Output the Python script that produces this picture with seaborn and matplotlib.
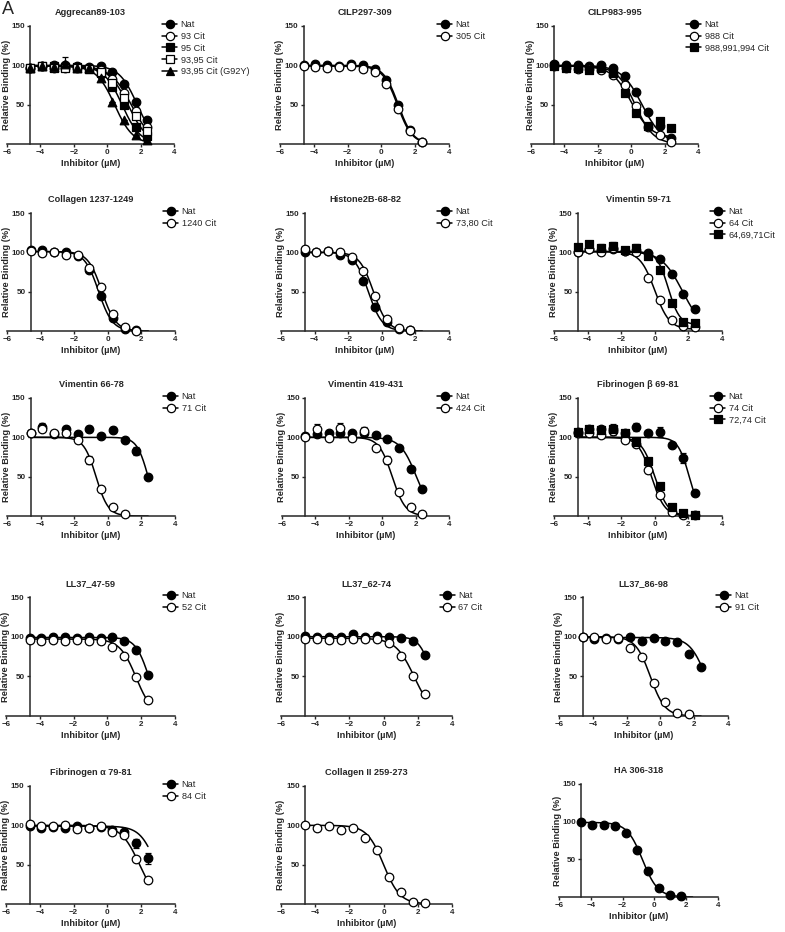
import numpy as np
import matplotlib
matplotlib.use("Agg")
import matplotlib.pyplot as plt
from matplotlib.lines import Line2D
import seaborn as sns

sns.set_style("ticks")
plt.rcParams["font.family"] = ["Liberation Sans", "DejaVu Sans"]
plt.rcParams["font.weight"] = "bold"
plt.rcParams["axes.labelweight"] = "bold"

nan = np.nan
# log10 inhibitor concentration (5-fold dilution series)
log_conc = [-4.6, -3.9, -3.2, -2.5, -1.8, -1.1, -0.4, 0.3, 1.0, 1.7, 2.4]

# ---- relative binding (%) ----
agg_nat = [97, 99, 100, 100, 99, 98, 99, 91, 76, 54, 31]
agg_93 = [97, 99, 97, 97, 97, 96, 94, 83, 65, 42, 22]
agg_95 = [97, 99, 99, 98, 98, 95, 90, 73, 50, 22, 10]
agg_9395 = [97, 99, 97, 97, 97, 95, 92, 78, 58, 36, 17]
agg_g92y = [97, 99, 98, 102, 97, 96, 84, 53, 30, 12, 5]
agg_g92y_err = [0, 0, 0, 8, 0, 0, 0, 0, 0, 0, 0]

cilp297_nat = [101, 102, 101, 99, 102, 100, 95, 81, 50, 18, 3]
cilp297_305 = [99, 98, 97, 98, 99, 95, 91, 76, 45, 16, 3]

cilp983_nat = [102, 101, 101, 99, 101, 97, 86, 66, 41, 23, 8]
cilp983_988 = [99, 97, 95, 95, 94, 88, 75, 48, 22, 11, 3]
cilp983_tri = [99, 96, 97, 94, 96, 90, 65, 40, 23, 29, 20]

coll_nat = [103, 103, 101, 101, 95, 78, 45, 16, 3, 1, nan]
coll_1240 = [102, 99, 101, 97, 97, 80, 56, 22, 5, 0, nan]

his_nat = [100, 100, 102, 97, 90, 63, 31, 11, 3, 1, nan]
his_7380 = [104, 100, 102, 100, 94, 76, 45, 15, 4, 1, nan]

vim59_nat = [101, 104, 103, 104, 102, 103, 99, 92, 72, 47, 28]
vim59_64 = [100, 104, 100, 105, 102, 100, 67, 40, 14, 6, 5]
vim59_tri = [107, 110, 106, 108, 103, 106, 95, 78, 35, 12, 10]
vim59_tri_err = [3, 5, 4, 5, 3, 5, 3, 3, 3, 2, 2]

vim66_nat = [106, 113, 104, 110, 104, 111, 102, 109, 97, 83, 50]
vim66_nat_err = [2, 5, 2, 5, 2, 4, 2, 4, 2, 5, 2]
vim66_71 = [106, 110, 106, 106, 96, 71, 34, 12, 3, nan, nan]
vim66_71_err = [0, 0, 2, 0, 3, 5, 2, 2, 1, 0, 0]

vim419_nat = [102, 104, 105, 105, 105, 105, 103, 98, 86, 60, 34]
vim419_nat_err = [3, 2, 2, 2, 2, 2, 2, 2, 2, 2, 2]
vim419_424 = [101, 111, 99, 112, 99, 108, 86, 71, 31, 11, 2]
vim419_424_err = [2, 6, 1, 6, 1, 5, 4, 5, 2, 1, 1]

fibb_nat = [107, 110, 110, 110, 106, 113, 105, 107, 90, 74, 29]
fibb_nat_err = [2, 3, 3, 7, 3, 5, 2, 6, 2, 6, 2]
fibb_74 = [106, 106, 103, 108, 97, 92, 59, 27, 5, 1, 1]
fibb_74_err = [0, 0, 0, 0, 2, 3, 4, 3, 1, 0, 0]
fibb_7274 = [107, 110, 109, 110, 106, 94, 70, 38, 12, 4, 1]
fibb_7274_err = [2, 4, 3, 5, 3, 4, 4, 4, 2, 1, 1]

ll47_nat = [98, 98, 99, 100, 98, 99, 98, 99, 94, 83, 52]
ll47_52 = [96, 95, 96, 95, 96, 95, 95, 87, 76, 49, 20]

ll62_nat = [101, 100, 100, 99, 103, 99, 101, 100, 98, 95, 77]
ll62_67 = [97, 97, 96, 96, 97, 97, 97, 92, 76, 50, 28]

ll86_nat = [99, 97, 98, 97, 99, 95, 98, 95, 93, 78, 62]
ll86_91 = [100, 99, 97, 98, 86, 75, 42, 18, 4, 2, nan]

fiba_nat = [99, 97, 98, 97, 99, 97, 98, 94, 92, 77, 58]
fiba_nat_err = [2, 2, 2, 2, 2, 2, 2, 2, 2, 6, 7]
fiba_84 = [102, 99, 99, 101, 95, 97, 99, 92, 88, 57, 31]
fiba_84_err = [2, 1, 1, 1, 4, 1, 1, 1, 1, 1, 1]

col2_vals = [100, 96, 99, 94, 97, 84, 69, 34, 15, 2, 1]
ha_vals = [99, 96, 95, 94, 85, 63, 35, 12, 3, 1, nan]

# fitted curve parameters: (logIC50, hill, top, bottom)
fits = {
    "agg_nat": (1.8, 0.8, 100, 0), "agg_93": (1.45, 0.7, 99, 0),
    "agg_95": (0.9, 0.8, 99, 0), "agg_9395": (1.25, 0.75, 99, 0),
    "agg_g92y": (0.45, 0.8, 99, 0),
    "cilp297_nat": (1.0, 1.0, 100, 0), "cilp297_305": (0.95, 1.0, 99, 0),
    "cilp983_nat": (0.65, 0.7, 100, 0), "cilp983_988": (0.25, 0.8, 99, 0),
    "cilp983_tri": (0.0, 0.75, 99, 8),
    "coll_nat": (-0.55, 1.05, 101, 0), "coll_1240": (-0.35, 1.05, 101, 0),
    "his_nat": (-0.8, 1.05, 100, 0), "his_7380": (-0.5, 1.05, 100, 0),
    "vim59_nat": (1.65, 0.7, 101, 0), "vim59_64": (0.0, 1.0, 101, 2),
    "vim59_tri": (0.8, 1.3, 101, 8),
    "vim66_nat": (2.4, 1.3, 100, 0), "vim66_71": (-0.7, 1.2, 100, 0),
    "vim419_nat": (2.05, 0.9, 100, 0), "vim419_424": (0.6, 1.1, 100, 0),
    "fibb_nat": (2.05, 1.3, 100, 0), "fibb_74": (-0.2, 1.1, 100, 0),
    "fibb_7274": (0.0, 1.1, 100, 0),
    "ll47_nat": (2.45, 1.1, 99, 0), "ll47_52": (1.7, 0.9, 97, 0),
    "ll62_nat": (2.85, 1.2, 100, 0), "ll62_67": (1.8, 0.8, 98, 0),
    "ll86_nat": (2.7, 0.9, 99, 0), "ll86_91": (-0.6, 1.0, 100, 0),
    "fiba_nat": (2.9, 0.9, 99, 0), "fiba_84": (1.9, 0.8, 100, 0),
    "col2": (0.0, 0.9, 100, 0), "ha": (-0.75, 0.9, 99, 0),
}

# marker styles: (marker, filled)
FC, OC, FS, OS, FT = ("o", True), ("o", False), ("s", True), ("s", False), ("^", True)

# (title, [(legend label, values, errors, fit key, style)], show legend)
panels = [
    ("Aggrecan89-103", [("Nat", agg_nat, None, "agg_nat", FC),
                        ("93 Cit", agg_93, None, "agg_93", OC),
                        ("95 Cit", agg_95, None, "agg_95", FS),
                        ("93,95 Cit", agg_9395, None, "agg_9395", OS),
                        ("93,95 Cit (G92Y)", agg_g92y, agg_g92y_err, "agg_g92y", FT)], True),
    ("CILP297-309", [("Nat", cilp297_nat, None, "cilp297_nat", FC),
                     ("305 Cit", cilp297_305, None, "cilp297_305", OC)], True),
    ("CILP983-995", [("Nat", cilp983_nat, None, "cilp983_nat", FC),
                     ("988 Cit", cilp983_988, None, "cilp983_988", OC),
                     ("988,991,994 Cit", cilp983_tri, None, "cilp983_tri", FS)], True),
    ("Collagen 1237-1249", [("Nat", coll_nat, None, "coll_nat", FC),
                            ("1240 Cit", coll_1240, None, "coll_1240", OC)], True),
    ("Histone2B-68-82", [("Nat", his_nat, None, "his_nat", FC),
                         ("73,80 Cit", his_7380, None, "his_7380", OC)], True),
    ("Vimentin 59-71", [("Nat", vim59_nat, None, "vim59_nat", FC),
                        ("64 Cit", vim59_64, None, "vim59_64", OC),
                        ("64,69,71Cit", vim59_tri, vim59_tri_err, "vim59_tri", FS)], True),
    ("Vimentin 66-78", [("Nat", vim66_nat, vim66_nat_err, "vim66_nat", FC),
                        ("71 Cit", vim66_71, vim66_71_err, "vim66_71", OC)], True),
    ("Vimentin 419-431", [("Nat", vim419_nat, vim419_nat_err, "vim419_nat", FC),
                          ("424 Cit", vim419_424, vim419_424_err, "vim419_424", OC)], True),
    ("Fibrinogen \u03b2 69-81", [("Nat", fibb_nat, fibb_nat_err, "fibb_nat", FC),
                                ("74 Cit", fibb_74, fibb_74_err, "fibb_74", OC),
                                ("72,74 Cit", fibb_7274, fibb_7274_err, "fibb_7274", FS)], True),
    ("LL37_47-59", [("Nat", ll47_nat, None, "ll47_nat", FC),
                    ("52 Cit", ll47_52, None, "ll47_52", OC)], True),
    ("LL37_62-74", [("Nat", ll62_nat, None, "ll62_nat", FC),
                    ("67 Cit", ll62_67, None, "ll62_67", OC)], True),
    ("LL37_86-98", [("Nat", ll86_nat, None, "ll86_nat", FC),
                    ("91 Cit", ll86_91, None, "ll86_91", OC)], True),
    ("Fibrinogen \u03b1 79-81", [("Nat", fiba_nat, fiba_nat_err, "fiba_nat", FC),
                                ("84 Cit", fiba_84, fiba_84_err, "fiba_84", OC)], True),
    ("Collagen II 259-273", [("", col2_vals, None, "col2", OC)], False),
    ("HA 306-318", [("", ha_vals, None, "ha", FC)], False),
]

# axes boxes in pixels: left(x=-6), right(x=4), top(y=150), bottom(y=0)
boxes = [
    (7, 174, 26, 144), (280, 449, 26, 144), (531, 698, 26, 144),
    (7, 175, 213, 331), (281, 449, 213, 331), (554, 722, 213, 331),
    (7, 175, 398, 516), (282, 449, 398, 516), (554, 722, 398, 516),
    (6, 175, 597, 716), (281, 452, 597, 716), (559, 728, 597, 716),
    (6, 175, 786, 904), (281, 452, 786, 904), (559, 718, 784, 897),
]

W, H = 785, 932


def four_pl(x, logic50, hill, top, bottom):
    return bottom + (top - bottom) / (1 + 10 ** ((x - logic50) * hill))


fig = plt.figure(figsize=(W / 100, H / 100), dpi=100)
xs = np.linspace(-4.6, 2.4, 200)

for (title, series, show_leg), (l, r, t, b) in zip(panels, boxes):
    ax = fig.add_axes([l / W, 1 - b / H, (r - l) / W, (b - t) / H])
    handles = []
    for label, vals, err, key, (mk, filled) in series:
        sns.lineplot(x=xs, y=four_pl(xs, *fits[key]), ax=ax, color="black", lw=1.1)
        if err is not None:
            ax.errorbar(log_conc, vals, yerr=err, fmt="none", ecolor="black",
                        elinewidth=0.9, capsize=2.5, capthick=0.9, zorder=2)
        face = "black" if filled else "white"
        sns.scatterplot(x=log_conc, y=vals, ax=ax, marker=mk, s=38, color=face,
                        edgecolor="black", linewidth=0.9, zorder=3, clip_on=False)
        handles.append(Line2D([], [], color="black", lw=1.1, marker=mk, ms=6,
                              mfc=face, mec="black", mew=0.9, label=label))
    ax.set_xlim(-6, 4)
    ax.set_ylim(0, 150)
    ax.set_xticks([-6, -4, -2, 0, 2, 4])
    ax.set_yticks([50, 100, 150])
    sns.despine(ax=ax)
    ax.spines["left"].set_position(("data", -4.6))
    for s in ("left", "bottom"):
        ax.spines[s].set_linewidth(1.1)
    ax.tick_params(labelsize=5.8, width=1.0, length=2.5, pad=1.2)
    ax.set_title(title, fontsize=6.6, fontweight="bold", pad=8)
    ax.set_xlabel("Inhibitor (\u00b5M)", fontsize=6.7, labelpad=2)
    ax.set_ylabel("Relative Binding (%)", fontsize=6.7, labelpad=0.6)
    if show_leg:
        ax.legend(handles=handles, loc="upper left", bbox_to_anchor=(0.93, 1.05),
                  frameon=False, borderpad=0, borderaxespad=0, handlelength=1.6,
                  handletextpad=0.4, labelspacing=0.3,
                  prop={"size": 6.6, "weight": "normal"})

fig.text(0.002, 0.999, "A", fontsize=13, fontweight="normal", va="top", ha="left")
fig.savefig("out.png", dpi=100)
